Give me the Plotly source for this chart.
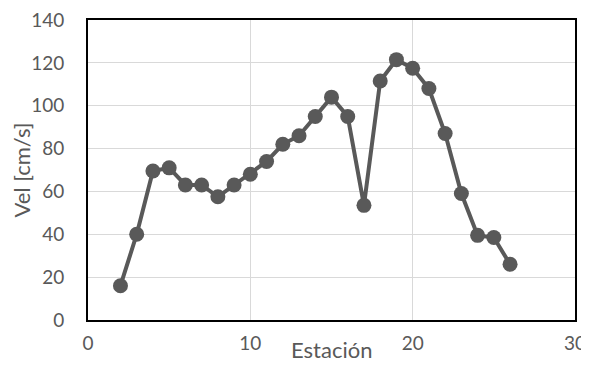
import plotly.graph_objects as go

estacion = [2, 3, 4, 5, 6, 7, 8, 9, 10, 11, 12, 13, 14, 15, 16, 17, 18, 19, 20, 21, 22, 23, 24, 25, 26]
vel = [16, 40, 69.5, 71, 63, 63, 57.5, 63, 68, 74, 82, 86, 95, 104, 95, 53.5, 111.5, 121.5, 117.5, 108, 87, 59, 39.5, 38.5, 26]

fig = go.Figure(go.Scatter(
    x=estacion, y=vel, mode="lines+markers",
    line=dict(color="#595959", width=4),
    marker=dict(color="#595959", size=15),
))

font = dict(family="Lato, Open Sans, sans-serif", size=19, color="#595959")
title_font = dict(family="Lato, Open Sans, sans-serif", size=22, color="#595959")
# page body has an 8px margin, so the figure is sized to fit the 589x374 window
fig.update_layout(
    width=581, height=366,
    margin=dict(l=80, r=14, t=12, b=54, autoexpand=False),
    paper_bgcolor="white", plot_bgcolor="white",
    showlegend=False,
    font=font,
    xaxis=dict(range=[0, 30], tickvals=[0, 10, 20, 30], showgrid=True, gridcolor="#d9d9d9", gridwidth=1.3,
               showline=True, linecolor="black", linewidth=2, mirror=True, zeroline=False,
               ticks="", ticklen=0, automargin=False, ticklabeloverflow="allow"),
    yaxis=dict(range=[0, 140], tickvals=list(range(0, 141, 20)), showgrid=True, gridcolor="#d9d9d9", gridwidth=1.3,
               showline=True, linecolor="black", linewidth=2, mirror=True, zeroline=False,
               ticks="", ticklen=0, automargin=False, ticklabeloverflow="allow",
               title=dict(text="Vel [cm/s]", standoff=5, font=title_font)),
    annotations=[dict(text="Estación", xref="paper", yref="paper", x=0.5, y=-0.097,
                      xanchor="center", yanchor="middle", showarrow=False, font=title_font)],
)
fig.update_xaxes(ticklabelstandoff=5)
fig.update_yaxes(ticklabelstandoff=18)
fig.write_html("out.html")
